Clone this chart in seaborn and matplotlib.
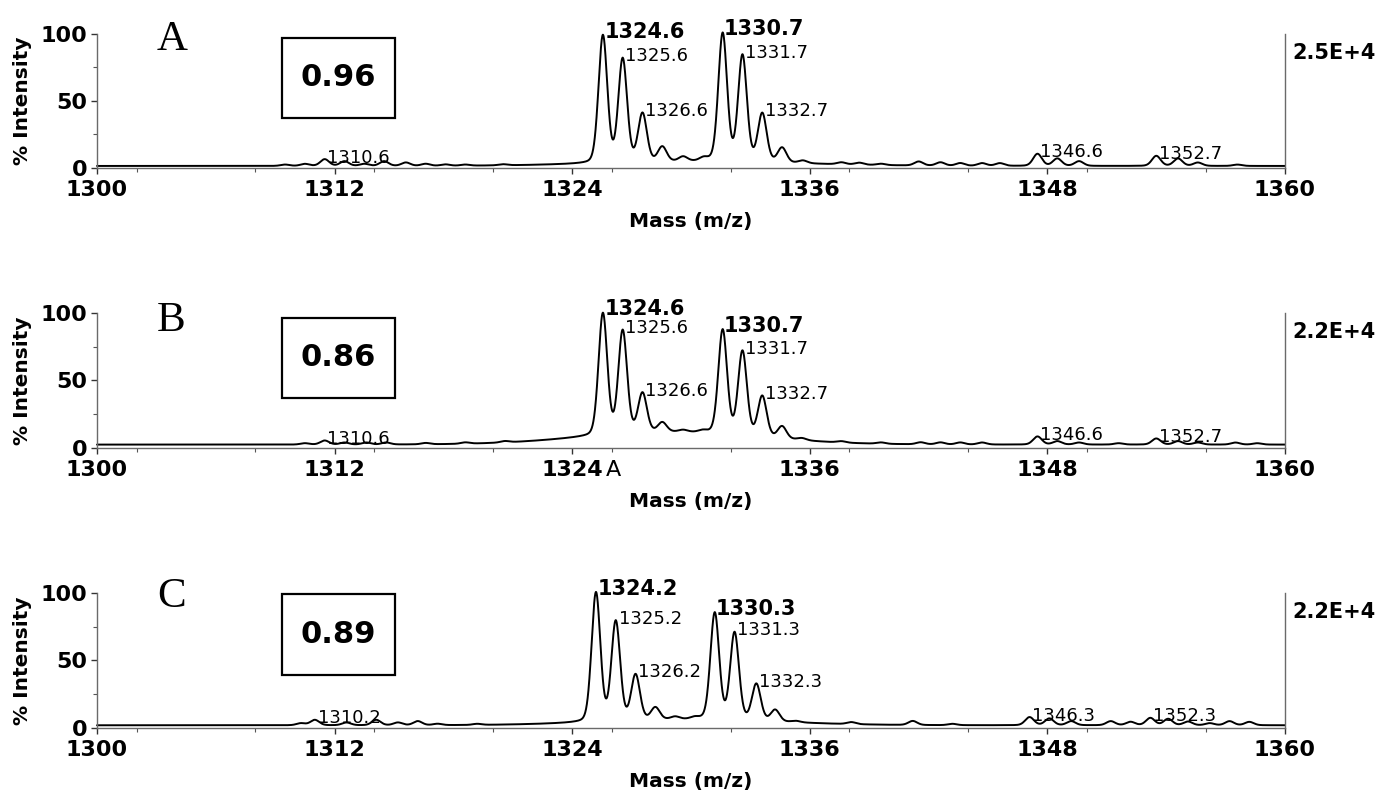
import numpy as np
import pandas as pd
import matplotlib
matplotlib.use('Agg')
import matplotlib.pyplot as plt
import seaborn as sns
from matplotlib.patches import Rectangle
from matplotlib.ticker import MultipleLocator

# ---- data (m/z on the plotted axis, % intensity) ----
panel_letters = ['A', 'B', 'C']
ratio_values = ['0.96', '0.86', '0.89']
scale_labels = ['2.5E+4', '2.2E+4', '2.2E+4']
x_ticks = [1300, 1312, 1324, 1336, 1348, 1360]
y_ticks = [0, 50, 100]

# panel A
a_floor = 1.5
a_hump_mz = [1330.5]
a_hump_h = [3.0]
a_hump_w = [5.0]
a_peak_mz = [1309.5, 1310.5, 1311.5, 1312.5, 1313.5, 1314.5, 1315.6, 1316.6, 1317.6, 1318.6, 1320.5,
             1325.55, 1326.55, 1327.55, 1328.55, 1329.6, 1330.65,
             1331.6, 1332.6, 1333.6, 1334.6, 1335.65,
             1337.6, 1338.5, 1339.6, 1341.5, 1342.6, 1343.6, 1344.7, 1345.6,
             1347.5, 1348.5, 1349.6, 1353.5, 1354.6, 1355.6, 1357.6]
a_peak_h = [1.0, 1.5, 5.0, 3.5, 1.5, 3.5, 2.5, 1.5, 1.0, 0.8, 0.8,
            95, 77, 36, 11, 3.5, 2.5,
            95.5, 79, 36, 11, 2,
            1.5, 1.5, 1.0, 3.0, 2.5, 2.0, 2.0, 2.0,
            9, 5.5, 3.5, 7.5, 5.5, 2.5, 1.0]
a_labels = ['1310.6', '1324.6', '1325.6', '1326.6', '1330.7', '1331.7', '1332.7', '1346.6', '1352.7']
a_label_mz = [1311.5, 1325.55, 1326.55, 1327.55, 1331.6, 1332.6, 1333.6, 1347.5, 1353.5]
a_label_bold = [False, True, False, False, True, False, False, False, False]

# panel B
b_floor = 2.5
b_hump_mz = [1329.0]
b_hump_h = [9.0]
b_hump_w = [4.5]
b_peak_mz = [1310.5, 1311.5, 1312.5, 1313.6, 1314.6, 1316.6, 1318.6, 1320.6,
             1325.55, 1326.55, 1327.55, 1328.55, 1329.6, 1330.6,
             1331.6, 1332.6, 1333.6, 1334.6, 1335.6,
             1337.6, 1339.6, 1341.6, 1342.6, 1343.6, 1344.7,
             1347.5, 1348.5, 1349.6, 1351.6, 1353.5, 1354.6, 1355.6, 1357.5, 1358.6]
b_peak_h = [1.0, 3.0, 1.5, 1.5, 1.5, 1.0, 1.0, 1.0,
            90, 76, 29, 7, 1.5, 1.5,
            77, 62, 30, 9, 1.5,
            1.0, 1.0, 1.5, 1.5, 1.5, 1.5,
            6.0, 2.5, 1.5, 1.0, 4.5, 2.5, 1.5, 1.5, 1.0]
b_labels = ['1310.6', '1324.6', '1325.6', '1326.6', '1330.7', '1331.7', '1332.7', '1346.6', '1352.7']
b_label_mz = [1311.5, 1325.55, 1326.55, 1327.55, 1331.6, 1332.6, 1333.6, 1347.5, 1353.5]
b_label_bold = [False, True, False, False, True, False, False, False, False]

# panel C
c_floor = 2.0
c_hump_mz = [1330.0]
c_hump_h = [4.0]
c_hump_w = [4.5]
c_peak_mz = [1310.3, 1311.0, 1312.6, 1314.1, 1315.2, 1316.2, 1317.2, 1319.2,
             1325.2, 1326.2, 1327.2, 1328.2, 1329.2, 1330.2,
             1331.2, 1332.2, 1333.3, 1334.25, 1335.3,
             1338.1, 1341.2, 1343.2,
             1347.1, 1348.1, 1349.2, 1351.2, 1352.2, 1353.2, 1354.1, 1355.1, 1356.2, 1357.2, 1358.2]
c_peak_h = [1.5, 4.0, 2.0, 4.0, 2.0, 3.0, 1.0, 0.8,
            95.5, 73.5, 33.5, 9, 2, 1.5,
            79, 64.5, 27, 8.5, 1,
            1.5, 3.0, 1.0,
            6.0, 5.0, 3.0, 3.0, 2.5, 5.4, 4.7, 2.7, 1.5, 3.0, 2.5]
c_labels = ['1310.2', '1324.2', '1325.2', '1326.2', '1330.3', '1331.3', '1332.3', '1346.3', '1352.3']
c_label_mz = [1311.0, 1325.2, 1326.2, 1327.2, 1331.2, 1332.2, 1333.3, 1347.1, 1353.2]
c_label_bold = [False, True, False, False, True, False, False, False, False]

panels = [
    (a_floor, a_hump_mz, a_hump_h, a_hump_w, a_peak_mz, a_peak_h, a_labels, a_label_mz, a_label_bold),
    (b_floor, b_hump_mz, b_hump_h, b_hump_w, b_peak_mz, b_peak_h, b_labels, b_label_mz, b_label_bold),
    (c_floor, c_hump_mz, c_hump_h, c_hump_w, c_peak_mz, c_peak_h, c_labels, c_label_mz, c_label_bold),
]

# ---- peak shape used to draw the trace from the peak lists ----
FWHM = 0.52
LORENTZ_FRAC = 0.18
mz_grid = np.linspace(1300, 1360, 6001)


def spectrum(floor, hump_mz, hump_h, hump_w, peak_mz, peak_h):
    y = np.full_like(mz_grid, floor)
    for m, h, w in zip(hump_mz, hump_h, hump_w):
        y += h * np.exp(-0.5 * ((mz_grid - m) / w) ** 2)
    sig = FWHM / 2.3548
    gam = FWHM / 2
    for m, h in zip(peak_mz, peak_h):
        d = mz_grid - m
        g = np.exp(-0.5 * (d / sig) ** 2)
        l = 1 / (1 + (d / gam) ** 2)
        y += h * ((1 - LORENTZ_FRAC) * g + LORENTZ_FRAC * l)
    return y


sns.set_style('ticks')
plt.rcParams['font.family'] = ['DejaVu Sans']
plt.rcParams['text.color'] = 'black'
plt.rcParams['axes.labelcolor'] = 'black'
plt.rcParams['xtick.color'] = 'black'
plt.rcParams['ytick.color'] = 'black'
plt.rcParams['xtick.labelcolor'] = 'black'
plt.rcParams['ytick.labelcolor'] = 'black'

fig = plt.figure(figsize=(13.78, 8.06), dpi=100)
# axes rectangles in figure fractions
axes_pos = [[0.0704, 0.7916, 0.8621, 0.1663],
            [0.0704, 0.4442, 0.8621, 0.1675],
            [0.0704, 0.0968, 0.8621, 0.1675]]
letter_y = [0.88, 0.867, 0.896]
box_y = [(0.373, 0.970), (0.370, 0.963), (0.393, 0.993)]
gray = '#6a6a6a'

for i, (floor, hm, hh, hw, pm, ph, labs, lab_mz, lab_bold) in enumerate(panels):
    ax = fig.add_axes(axes_pos[i])
    y = spectrum(floor, hm, hh, hw, pm, ph)
    df = pd.DataFrame({'mz': mz_grid, 'intensity': y})
    sns.lineplot(data=df, x='mz', y='intensity', ax=ax, color='black',
                 linewidth=1.4, estimator=None)
    ax.lines[0].set_clip_on(False)

    ax.set_xlim(1300, 1360)
    ax.set_ylim(0, 100)
    ax.set_xticks(x_ticks)
    ax.set_xticklabels([str(t) for t in x_ticks], fontweight='bold', fontsize=16)
    ax.set_yticks(y_ticks)
    ax.set_yticklabels([str(t) for t in y_ticks], fontweight='bold', fontsize=16)
    ax.xaxis.set_minor_locator(MultipleLocator(6))
    ax.yaxis.set_minor_locator(MultipleLocator(25))
    ax.tick_params(which='major', direction='out', length=4, width=1, color='#333', pad=5)
    ax.tick_params(axis='y', which='major', pad=3)
    ax.tick_params(which='minor', direction='out', length=3, width=0.8, color='#555')

    for side in ['left', 'right', 'bottom']:
        ax.spines[side].set_visible(True)
        ax.spines[side].set_color(gray)
        ax.spines[side].set_linewidth(1.0)
    ax.spines['top'].set_visible(False)

    ax.set_xlabel('Mass (m/z)', fontsize=14.5, fontweight='bold', labelpad=8)
    ax.set_ylabel('% Intensity', fontsize=14.5, fontweight='bold', labelpad=6)

    # panel letter
    ax.text(0.0505, letter_y[i], panel_letters[i], transform=ax.transAxes,
            fontsize=31, family=['Liberation Serif', 'DejaVu Serif'],
            ha='left', va='baseline')

    # ratio box
    y0, y1 = box_y[i]
    ax.add_patch(Rectangle((0.1557, y0), 0.0951, y1 - y0, transform=ax.transAxes,
                           fill=False, edgecolor='black', linewidth=1.6, clip_on=False))
    ax.text(0.2033, (y0 + y1) / 2, ratio_values[i], transform=ax.transAxes,
            fontsize=22, fontweight='bold', ha='center', va='center')

    # scale on the right
    ax.text(1.006, 0.86, scale_labels[i], transform=ax.transAxes,
            fontsize=15, fontweight='bold', ha='left', va='center')

    # peak labels
    for txt, m, bold in zip(labs, lab_mz, lab_bold):
        yy = np.interp(m, mz_grid, y)
        if bold:
            ax.annotate(txt, xy=(m, yy), xytext=(1, -2), textcoords='offset points',
                        fontsize=15, fontweight='bold', ha='left', va='baseline',
                        annotation_clip=False)
        else:
            ax.annotate(txt, xy=(m, yy), xytext=(2, -2.5), textcoords='offset points',
                        fontsize=13, ha='left', va='baseline', annotation_clip=False)

    # stray "A" after the 1324 tick in panel B
    if i == 1:
        ax.annotate('A', xy=(1325.7, 0), xycoords=('data', 'axes fraction'),
                    xytext=(0, -9), textcoords='offset points',
                    fontsize=16, ha='left', va='top')

fig.savefig('out.png', dpi=100)
